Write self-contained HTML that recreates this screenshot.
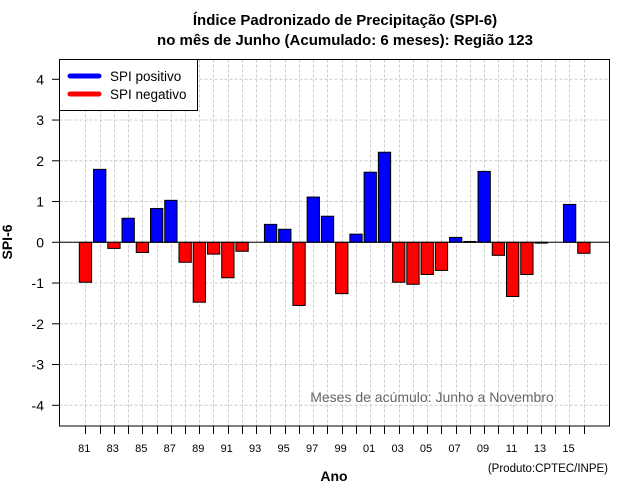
<!DOCTYPE html>
<html><head><meta charset="utf-8"><style>
body{margin:0;background:#fff}
svg{display:block;font-family:"Liberation Sans",sans-serif}
</style></head><body>
<svg id="c" width="640" height="500">
<text x="345" y="25" text-anchor="middle" font-size="15" font-weight="bold">Índice Padronizado de Precipitação (SPI-6)</text>
<text x="345" y="45" text-anchor="middle" font-size="15" font-weight="bold">no mês de Junho (Acumulado: 6 meses): Região 123</text>
<g id="grid"></g><g id="bars"></g><g id="axes"></g>
<rect x="59.5" y="59.5" width="550" height="366.5" fill="none" stroke="#000"/>
<g>
<rect x="59.5" y="59.5" width="138" height="51" fill="#fff" stroke="#000"/>
<line x1="70" y1="76" x2="99" y2="76" stroke="#00f" stroke-width="5" stroke-linecap="round"/>
<text x="110" y="81" font-size="13.5">SPI positivo</text>
<line x1="70" y1="94" x2="99" y2="94" stroke="#f00" stroke-width="5" stroke-linecap="round"/>
<text x="110" y="99" font-size="13.5">SPI negativo</text>
</g>
<text x="432" y="402" text-anchor="middle" font-size="14" fill="#666">Meses de acúmulo: Junho a Novembro</text>
<text x="334" y="481" text-anchor="middle" font-size="14" font-weight="bold">Ano</text>
<text transform="translate(12,242) rotate(-90)" text-anchor="middle" font-size="14" font-weight="bold">SPI-6</text>
<text x="608" y="472" text-anchor="end" font-size="11.5">(Produto:CPTEC/INPE)</text>
</svg>
<script>
const years=[1981,1982,1983,1984,1985,1986,1987,1988,1989,1990,1991,1992,1993,1994,1995,1996,1997,1998,1999,2000,2001,2002,2003,2004,2005,2006,2007,2008,2009,2010,2011,2012,2013,2014,2015,2016];
const spiValues=[-0.98,1.79,-0.15,0.59,-0.25,0.83,1.03,-0.49,-1.47,-0.29,-0.87,-0.22,0,0.44,0.32,-1.55,1.11,0.64,-1.26,0.20,1.72,2.21,-0.98,-1.03,-0.79,-0.69,0.12,0.02,1.74,-0.32,-1.33,-0.79,-0.02,0,0.93,-0.27];
const yTicks=[-4,-3,-2,-1,0,1,2,3,4];
const NS="http://www.w3.org/2000/svg";
const x=yr=>85.3+(yr-1981)*14.24;
const y=v=>242.3-v*40.75;
function mk(t,a,p){const e=document.createElementNS(NS,t);for(const k in a)e.setAttribute(k,a[k]);p.appendChild(e);return e;}
const G=document.getElementById('grid'),B=document.getElementById('bars'),A=document.getElementById('axes');
yTicks.forEach(t=>{
 const gl=mk('line',{x1:59.5,x2:609.5,y1:y(t),y2:y(t),stroke:'#ccc','stroke-dasharray':'3,2'},G);
 
 
 const tk=mk('line',{x1:52,x2:59.5,y1:y(t),y2:y(t),stroke:'#000'},A);
 
 
 const tl=mk('text',{x:44,y:y(t)+5,'text-anchor':'end','font-size':14},A);
 tl.textContent=t;
 
 
});
years.forEach((yr,i)=>{
 const gx=Math.round(x(yr))+0.5;
 const vl=mk('line',{x1:gx,x2:gx,y1:59.5,y2:426,stroke:'#ccc','stroke-dasharray':'3,2'},G);
 
 
 const tk=mk('line',{x1:gx,x2:gx,y1:426,y2:434,stroke:'#000'},A);
 
 
 if((yr-1981)%2===0){
  const tl=mk('text',{x:x(yr)-1,y:452,'text-anchor':'middle','font-size':11},A);
  tl.textContent=String(yr%100).padStart(2,'0');
  
  
 }
 const v=spiValues[i];
 if(v!==0){
  const r=mk('rect',{x:x(yr)-6,y:Math.min(y(v),y(0)),width:12.3,height:Math.abs(y(v)-y(0)),fill:v>0?'#00f':'#f00',stroke:'#000'},B);
  
  
 }
});
const zl=mk('line',{x1:59.5,x2:609.5,y1:y(0),y2:y(0),stroke:'#000'},B);


</script>
</body></html>
